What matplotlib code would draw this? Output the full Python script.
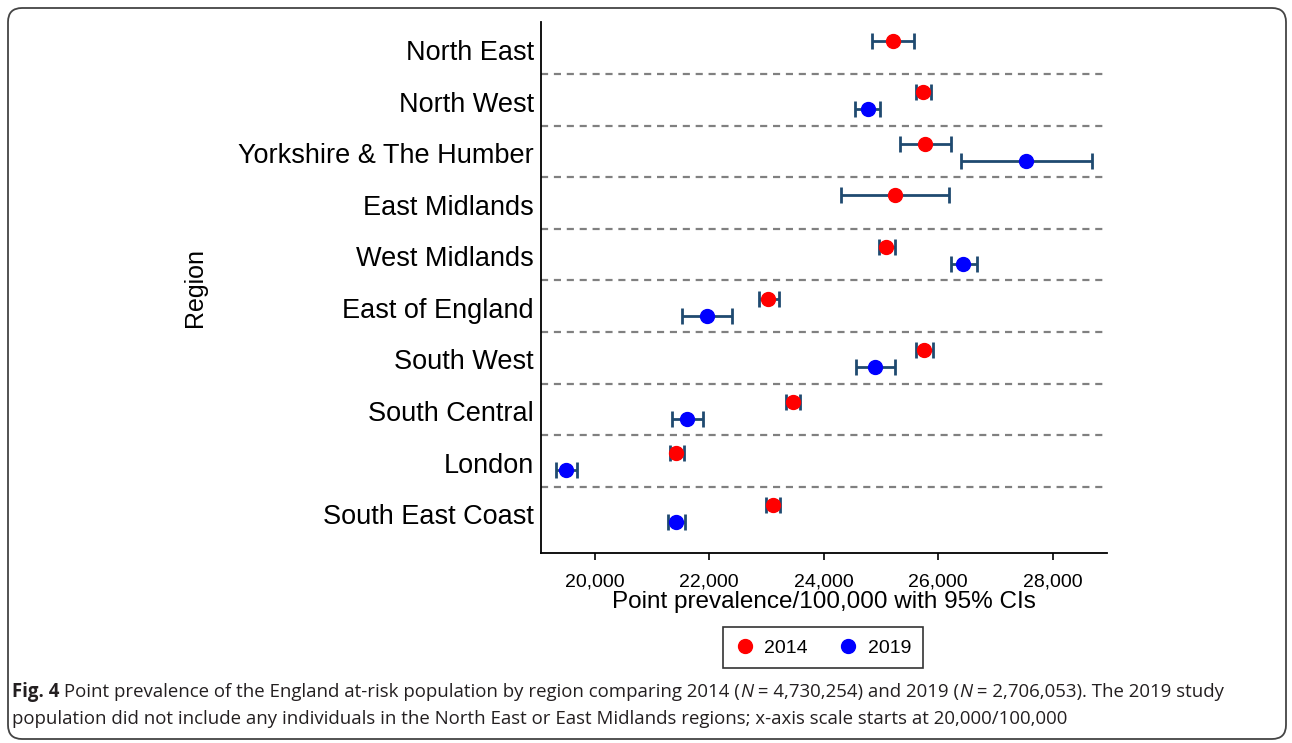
import numpy as np
import matplotlib
matplotlib.use("Agg")
import matplotlib.pyplot as plt
from matplotlib.patches import FancyBboxPatch
from matplotlib.lines import Line2D

plt.rcParams['font.family'] = ['Liberation Sans', 'DejaVu Sans']

# data (point prevalence per 100,000, 95% CI)
regions = ["North East", "North West", "Yorkshire & The Humber", "East Midlands",
           "West Midlands", "East of England", "South West", "South Central",
           "London", "South East Coast"]
prev_2014 = [25206, 25730, 25779, 25241, 25096, 23036, 25760, 23457, 21428, 23111]
lo_2014 = [24848, 25607, 25328, 24298, 24960, 22870, 25613, 23336, 21320, 22997]
hi_2014 = [25581, 25869, 26233, 26198, 25241, 23216, 25913, 23583, 21557, 23241]
prev_2019 = [np.nan, 24772, 27533, np.nan, 26442, 21958, 24899, 21613, 19502, 21418]
lo_2019 = [np.nan, 24543, 26399, np.nan, 26219, 21531, 24560, 21353, 19318, 21288]
hi_2019 = [np.nan, 24988, 28695, np.nan, 26672, 22392, 25250, 21894, 19688, 21569]
xticks = [20000, 22000, 24000, 26000, 28000]

navy = "#1f4a70"
ypos = np.arange(len(regions))

fig = plt.figure(figsize=(12.92, 7.43), dpi=100)
ax = fig.add_axes([0.4187, 0.2557, 0.8568 - 0.4187, 0.9704 - 0.2557])

p14 = np.array(prev_2014, dtype=float)
p19 = np.array(prev_2019, dtype=float)
err14 = [p14 - np.array(lo_2014), np.array(hi_2014) - p14]
err19 = [p19 - np.array(lo_2019), np.array(hi_2019) - p19]

for k in range(len(regions) - 1):
    ax.axhline(k + 0.47, color="#808080", lw=1.6, ls=(0, (3.2, 2.6)), zorder=1)

ax.errorbar(p14, ypos - 0.18, xerr=err14, fmt="none", ecolor=navy, elinewidth=2,
            capsize=5.5, capthick=2, zorder=2)
ax.errorbar(p19, ypos + 0.15, xerr=err19, fmt="none", ecolor=navy, elinewidth=2,
            capsize=5.5, capthick=2, zorder=2)
ax.plot(p14, ypos - 0.18, "o", color="#ff0000", ms=10, zorder=3)
ax.plot(p19, ypos + 0.15, "o", color="#0000ff", ms=10, zorder=3)

ax.set_ylim(9.755, -0.543)
ax.set_xlim(19061, 28950)
ax.set_yticks(ypos)
ax.set_yticklabels(regions, fontsize=19.5)
ax.tick_params(axis="y", length=0, pad=5)
ax.set_xticks(xticks)
ax.set_xticklabels([f"{v:,}" for v in xticks], fontsize=14)
ax.tick_params(axis="x", length=5, width=1.2, pad=10)
ax.set_xlabel("Point prevalence/100,000 with 95% CIs", fontsize=17.5, labelpad=0)
ax.set_ylabel("Region", fontsize=18, labelpad=0)
ax.yaxis.set_label_coords(-0.59, 0.5)
for s in ["top", "right"]:
    ax.spines[s].set_visible(False)
for s in ["left", "bottom"]:
    ax.spines[s].set_linewidth(1.3)

handles = [Line2D([], [], ls="none", marker="o", color="#ff0000", ms=10),
           Line2D([], [], ls="none", marker="o", color="#0000ff", ms=10)]
leg = fig.legend(handles, ["2014", "2019"], loc="center", bbox_to_anchor=(0.637, 0.128),
                 ncol=2, fontsize=14, frameon=True, fancybox=False, edgecolor="black",
                 handletextpad=0.5, columnspacing=1.6, borderpad=0.6, handlelength=1.0,
                 borderaxespad=0)
leg.get_frame().set_linewidth(1.2)

frame = FancyBboxPatch((8, 4), 1278, 731, boxstyle="round,pad=0,rounding_size=14",
                       transform=None, fill=False, edgecolor="#444444", lw=1.3)
fig.patches.append(frame)

# caption, drawn piece by piece so bold / italic parts keep the same font
cap_line1 = [("Fig. 4", "bold", "normal"),
             (" Point prevalence of the England at-risk population by region comparing 2014 (", "normal", "normal"),
             ("N", "normal", "italic"),
             (" = 4,730,254) and 2019 (", "normal", "normal"),
             ("N", "normal", "italic"),
             (" = 2,706,053). The 2019 study", "normal", "normal")]
cap_line2 = [("population did not include any individuals in the North East or East Midlands "
              "regions; x-axis scale starts at 20,000/100,000", "normal", "normal")]

renderer = fig.canvas.get_renderer()
for line, ypix in [(cap_line1, 692), (cap_line2, 719)]:
    xpix = 12
    for txt, wt, st in line:
        t = fig.text(xpix / 1292, 1 - ypix / 743, txt, fontsize=13.4, family="Open Sans",
                     weight=wt, style=st, va="center", ha="left", color="#231f20")
        xpix += t.get_window_extent(renderer).width

fig.savefig("out.png", dpi=100)
